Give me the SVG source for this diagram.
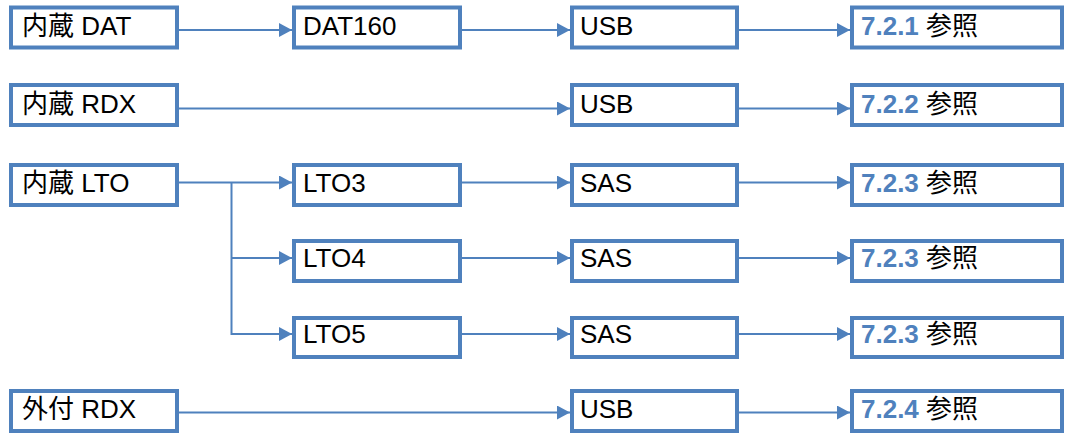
<svg xmlns="http://www.w3.org/2000/svg" width="1067" height="434" viewBox="0 0 1067 434">
<defs>
<style>
.box{fill:#fff;stroke:#4F81BD;stroke-width:4}
.t{font-family:"Liberation Sans","Noto Sans CJK JP",sans-serif;font-size:26px;fill:#000}
.ref{font-weight:bold;fill:#4F81BD}
.c{fill:none;stroke:#4F81BD;stroke-width:2}
</style>
<marker id="ah" viewBox="0 0 13 14" refX="13" refY="7" markerWidth="13" markerHeight="14" markerUnits="userSpaceOnUse" orient="auto">
<path d="M0,0 L13,7 L0,14 Z" fill="#4F81BD"/>
</marker>
</defs>
<rect width="1067" height="434" fill="#fff"/>
<g id="connectors">
<path class="c" d="M179,30 H292" marker-end="url(#ah)"/>
<path class="c" d="M462,30 H570" marker-end="url(#ah)"/>
<path class="c" d="M739,30 H850" marker-end="url(#ah)"/>
<path class="c" d="M179,108.5 H570" marker-end="url(#ah)"/>
<path class="c" d="M739,108.5 H850" marker-end="url(#ah)"/>
<path class="c" d="M179,182.5 H292" marker-end="url(#ah)"/>
<path class="c" d="M231.5,182.5 V334 H292" marker-end="url(#ah)"/>
<path class="c" d="M231.5,258 H292" marker-end="url(#ah)"/>
<path class="c" d="M462,182.5 H570" marker-end="url(#ah)"/>
<path class="c" d="M462,258 H570" marker-end="url(#ah)"/>
<path class="c" d="M462,334 H570" marker-end="url(#ah)"/>
<path class="c" d="M739,182.5 H850" marker-end="url(#ah)"/>
<path class="c" d="M739,258 H850" marker-end="url(#ah)"/>
<path class="c" d="M739,334 H850" marker-end="url(#ah)"/>
<path class="c" d="M179,412.5 H570" marker-end="url(#ah)"/>
<path class="c" d="M739,412.5 H850" marker-end="url(#ah)"/>
</g>
<g id="n-dat"><rect class="box" x="11" y="7.5" width="166" height="40"/><text class="t" x="22" y="35">内蔵 DAT</text></g>
<g id="n-dat160"><rect class="box" x="294" y="7.5" width="166" height="40"/><text class="t" x="303" y="35">DAT160</text></g>
<g id="n-usb1"><rect class="box" x="572" y="7.5" width="165" height="40"/><text class="t" x="580" y="35">USB</text></g>
<g id="n-ref1"><rect class="box" x="852" y="7.5" width="210" height="40"/><text class="t" x="861" y="35"><tspan class="ref">7.2.1</tspan> 参照</text></g>

<g id="n-rdx"><rect class="box" x="11" y="85" width="166" height="40"/><text class="t" x="22" y="113">内蔵 RDX</text></g>
<g id="n-usb2"><rect class="box" x="572" y="85" width="165" height="40"/><text class="t" x="580" y="113">USB</text></g>
<g id="n-ref2"><rect class="box" x="852" y="85" width="210" height="40"/><text class="t" x="861" y="113"><tspan class="ref">7.2.2</tspan> 参照</text></g>

<g id="n-lto"><rect class="box" x="11" y="165" width="166" height="40"/><text class="t" x="22" y="192">内蔵 LTO</text></g>
<g id="n-lto3"><rect class="box" x="294" y="165" width="166" height="40"/><text class="t" x="303" y="192">LTO3</text></g>
<g id="n-sas3"><rect class="box" x="572" y="165" width="165" height="40"/><text class="t" x="580" y="192">SAS</text></g>
<g id="n-ref3"><rect class="box" x="852" y="165" width="210" height="40"/><text class="t" x="861" y="192"><tspan class="ref">7.2.3</tspan> 参照</text></g>

<g id="n-lto4"><rect class="box" x="294" y="241" width="166" height="40"/><text class="t" x="303" y="267">LTO4</text></g>
<g id="n-sas4"><rect class="box" x="572" y="241" width="165" height="40"/><text class="t" x="580" y="267">SAS</text></g>
<g id="n-ref4"><rect class="box" x="852" y="241" width="210" height="40"/><text class="t" x="861" y="267"><tspan class="ref">7.2.3</tspan> 参照</text></g>

<g id="n-lto5"><rect class="box" x="294" y="318" width="166" height="39"/><text class="t" x="303" y="343">LTO5</text></g>
<g id="n-sas5"><rect class="box" x="572" y="318" width="165" height="39"/><text class="t" x="580" y="343">SAS</text></g>
<g id="n-ref5"><rect class="box" x="852" y="318" width="210" height="39"/><text class="t" x="861" y="343"><tspan class="ref">7.2.3</tspan> 参照</text></g>

<g id="n-ext"><rect class="box" x="11" y="391" width="166" height="40"/><text class="t" x="22" y="418">外付 RDX</text></g>
<g id="n-usb6"><rect class="box" x="572" y="391" width="165" height="40"/><text class="t" x="580" y="418">USB</text></g>
<g id="n-ref6"><rect class="box" x="852" y="391" width="210" height="40"/><text class="t" x="861" y="418"><tspan class="ref">7.2.4</tspan> 参照</text></g>
</svg>
